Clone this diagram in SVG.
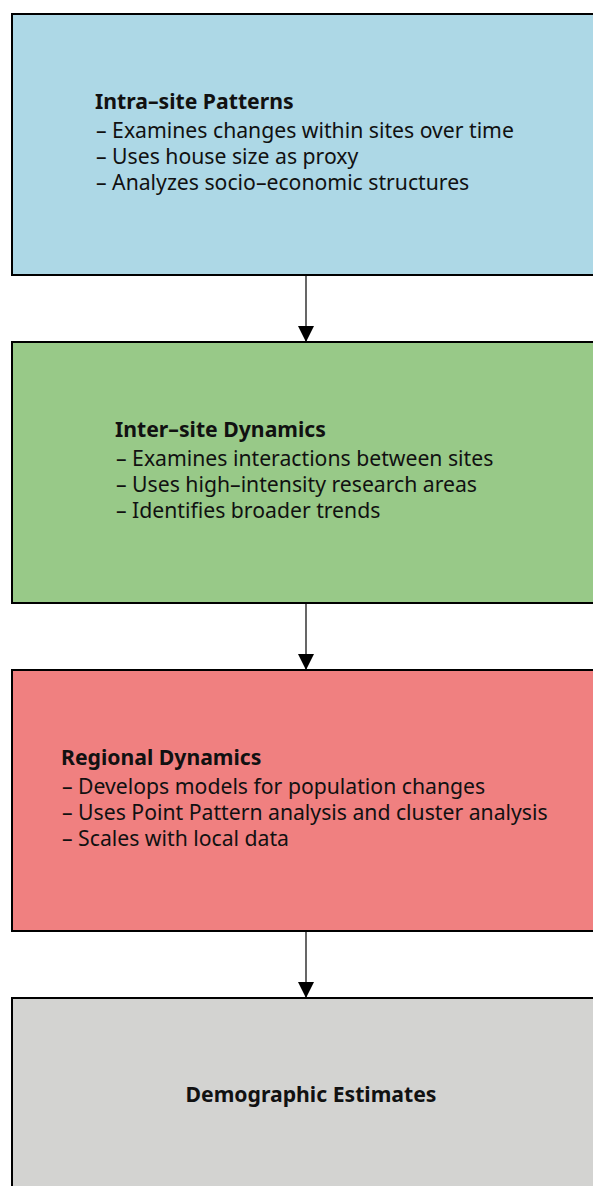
<svg xmlns="http://www.w3.org/2000/svg" width="593" height="1186" viewBox="0 0 593 1186">
  <style>
    .box { stroke: #000; stroke-width: 2; }
    .title { font-family: "Noto Sans", sans-serif; font-size: 21.2px; font-weight: bold; fill: #111; }
    .item { font-family: "Noto Sans", sans-serif; font-size: 21.2px; fill: #111; }
    .edge { stroke: #000; stroke-width: 1.2; fill: none; }
  </style>
  <defs>
    <marker id="arrow" viewBox="0 0 16 16" refX="16" refY="8" markerWidth="16" markerHeight="16" markerUnits="userSpaceOnUse" orient="auto">
      <path d="M0,0 L16,8 L0,16 Z" fill="#000"/>
    </marker>
  </defs>
  <rect width="593" height="1186" fill="#fff"/>

  <g id="intra-site">
    <rect class="box" x="12" y="14" width="590" height="261" fill="#add8e6"/>
    <text class="title" x="95" y="108.5">Intra–site Patterns</text>
    <text class="item" x="96" y="137.5">– Examines changes within sites over time</text>
    <text class="item" x="96" y="163.5">– Uses house size as proxy</text>
    <text class="item" x="96" y="189.5">– Analyzes socio–economic structures</text>
  </g>

  <g id="inter-site">
    <rect class="box" x="12" y="342" width="590" height="261" fill="#98c988"/>
    <text class="title" x="115" y="436.5">Inter–site Dynamics</text>
    <text class="item" x="116" y="465.5">– Examines interactions between sites</text>
    <text class="item" x="116" y="491.5">– Uses high–intensity research areas</text>
    <text class="item" x="116" y="517.5">– Identifies broader trends</text>
  </g>

  <g id="regional">
    <rect class="box" x="12" y="670" width="590" height="261" fill="#f08080"/>
    <text class="title" x="61" y="764.5">Regional Dynamics</text>
    <text class="item" x="62" y="793.5">– Develops models for population changes</text>
    <text class="item" x="62" y="819.5">– Uses Point Pattern analysis and cluster analysis</text>
    <text class="item" x="62" y="845.5">– Scales with local data</text>
  </g>

  <g id="demographic">
    <rect class="box" x="12" y="998" width="590" height="261" fill="#d3d3d1"/>
    <text class="title" x="311" y="1101.5" text-anchor="middle">Demographic Estimates</text>
  </g>

  <g id="connectors">
    <line class="edge" x1="306" y1="275" x2="306" y2="342" marker-end="url(#arrow)"/>
    <line class="edge" x1="306" y1="603" x2="306" y2="670" marker-end="url(#arrow)"/>
    <line class="edge" x1="306" y1="931" x2="306" y2="998" marker-end="url(#arrow)"/>
  </g>
</svg>
